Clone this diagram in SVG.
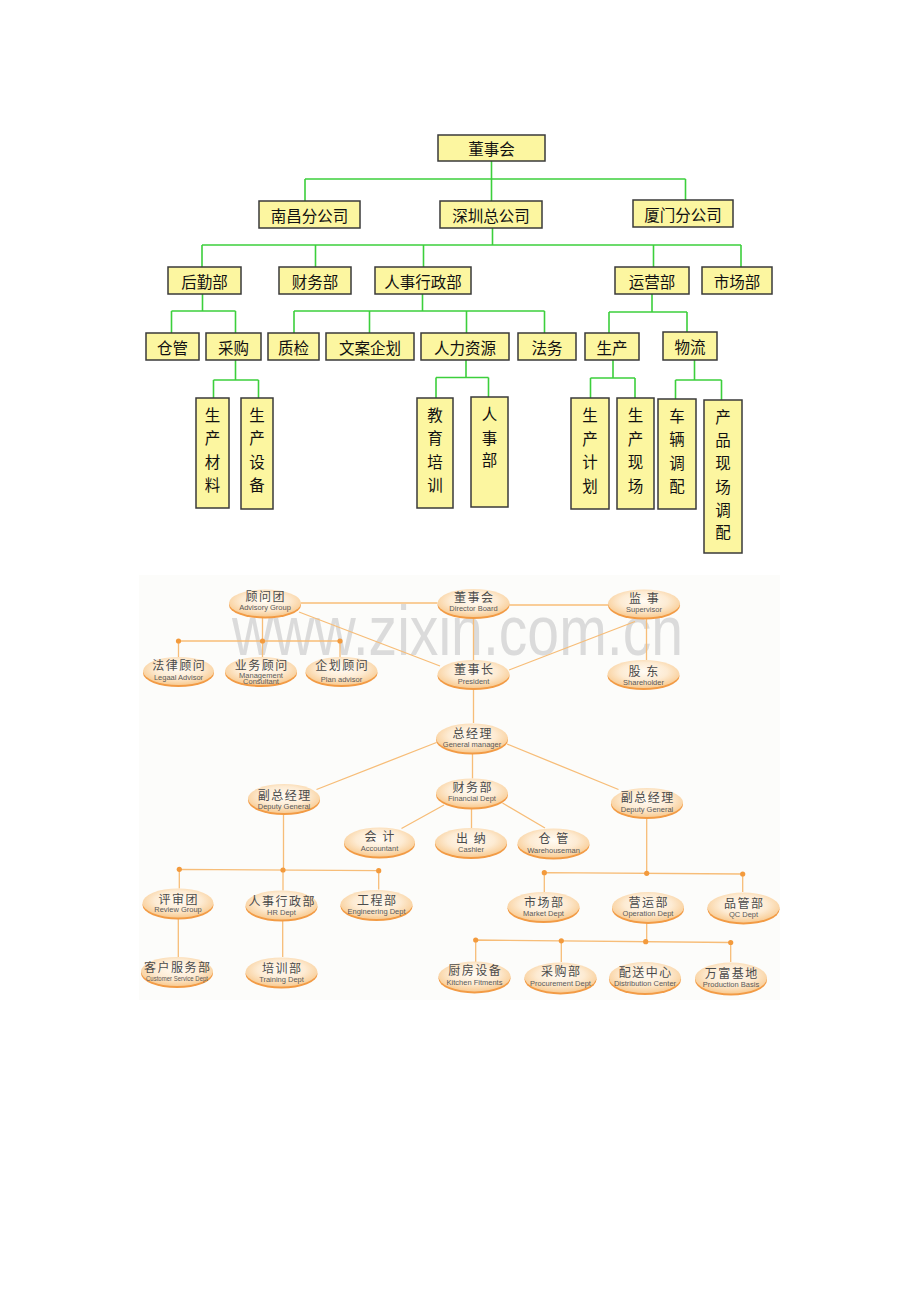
<svg xmlns="http://www.w3.org/2000/svg" width="920" height="1302" viewBox="0 0 920 1302">
<style>
.box{fill:#fcf6a0;stroke:#3a3a3a;stroke-width:1.5}
.bt{font-family:"Noto Sans CJK SC","Noto Sans CJK JP",sans-serif;font-size:15.5px;fill:#111;text-anchor:middle;dominant-baseline:central}
.gl{stroke:#3ccf3c;stroke-width:1.6;fill:none}
.ol{stroke:#f7bd78;stroke-width:1.3;fill:none}
.dot{fill:#f39a3c}
.es{fill:#f29b45}
.ef{fill:url(#eg)}
.zh{font-family:"Noto Sans CJK SC","Noto Sans CJK JP",sans-serif;font-size:12px;fill:#4b4b4b;text-anchor:middle;dominant-baseline:central;letter-spacing:1.5px;transform:translateY(-1px)}
.en{font-family:"Liberation Sans",Arial,sans-serif;font-size:7.5px;fill:#5a5a5a;text-anchor:middle;dominant-baseline:central;transform:translateY(0.6px)}
.wm{font-family:"Liberation Sans",Arial,sans-serif;font-size:71px;fill:#d4d4d4;opacity:0.8}
</style>
<defs>
<radialGradient id="eg" cx="50%" cy="42%" r="55%">
<stop offset="0" stop-color="#fffbf4"/>
<stop offset="0.6" stop-color="#fdebd3"/>
<stop offset="1" stop-color="#f9cf9a"/>
</radialGradient>
</defs>
<rect x="0" y="0" width="920" height="1302" fill="#ffffff"/>

<!-- ===== Top chart ===== -->
<g id="top-connectors">
<path class="gl" d="M491.5 161V201M305 179H685.5M305 179V201M685.5 179V200"/>
<path class="gl" d="M492.5 228V245M202 245H741M202 245V267M315.5 245V267M423.5 245V267M653.5 245V267M741 245V267"/>
<path class="gl" d="M202.5 294V311M171.5 311H235.5M171.5 311V333M235.5 311V333"/>
<path class="gl" d="M235.5 360V380M213.5 380H258.5M213.5 380V398M258.5 380V398"/>
<path class="gl" d="M422.5 293V311M294 311H544.5M294 311V333M369.5 311V333M466.5 311V333M544.5 311V333"/>
<path class="gl" d="M466 360V377.5M436 377.5H488.5M436 377.5V398M488.5 377.5V397"/>
<path class="gl" d="M652 294V312M609 312H687M609 312V333M687 312V332"/>
<path class="gl" d="M613 360V378M590.5 378H635M590.5 378V398M635 378V398"/>
<path class="gl" d="M694.5 360V380M675.5 380H721.5M675.5 380V399M721.5 380V400"/>
</g>

<g id="t-dongshihui"><rect class="box" x="438" y="135" width="107" height="26"/><text class="bt" x="491.5" y="148">董事会</text></g>
<g id="t-nanchang"><rect class="box" x="259" y="201" width="101" height="27"/><text class="bt" x="309.5" y="214.5">南昌分公司</text></g>
<g id="t-shenzhen"><rect class="box" x="440" y="201" width="102" height="27"/><text class="bt" x="491" y="214.5">深圳总公司</text></g>
<g id="t-xiamen"><rect class="box" x="633" y="200" width="100" height="27"/><text class="bt" x="683" y="213.5">厦门分公司</text></g>
<g id="t-houqin"><rect class="box" x="168" y="267" width="73" height="27"/><text class="bt" x="204.5" y="280.5">后勤部</text></g>
<g id="t-caiwu"><rect class="box" x="279" y="267" width="72" height="27"/><text class="bt" x="315" y="280.5">财务部</text></g>
<g id="t-renshi"><rect class="box" x="375" y="267" width="96" height="27"/><text class="bt" x="423" y="280.5">人事行政部</text></g>
<g id="t-yunying"><rect class="box" x="615" y="267" width="74" height="27"/><text class="bt" x="652" y="280.5">运营部</text></g>
<g id="t-shichang"><rect class="box" x="702" y="267" width="70" height="27"/><text class="bt" x="737" y="280.5">市场部</text></g>
<g id="t-canguan"><rect class="box" x="146" y="333" width="53" height="27"/><text class="bt" x="172.5" y="346.5">仓管</text></g>
<g id="t-caigou"><rect class="box" x="206" y="333" width="55" height="27"/><text class="bt" x="233.5" y="346.5">采购</text></g>
<g id="t-zhijian"><rect class="box" x="268" y="333" width="51" height="27"/><text class="bt" x="293.5" y="346.5">质检</text></g>
<g id="t-wenan"><rect class="box" x="326" y="333" width="88" height="27"/><text class="bt" x="370" y="346.5">文案企划</text></g>
<g id="t-renli"><rect class="box" x="421" y="333" width="88" height="27"/><text class="bt" x="465" y="346.5">人力资源</text></g>
<g id="t-fawu"><rect class="box" x="518" y="333" width="58" height="27"/><text class="bt" x="547" y="346.5">法务</text></g>
<g id="t-shengchan"><rect class="box" x="585" y="333" width="54" height="27"/><text class="bt" x="612" y="346.5">生产</text></g>
<g id="t-wuliu"><rect class="box" x="663" y="332" width="54" height="28"/><text class="bt" x="690" y="346">物流</text></g>

<g id="t-shengchancailiao"><rect class="box" x="196" y="398" width="33" height="110"/>
<text class="bt"><tspan x="212.5" y="413.5">生</tspan><tspan x="212.5" y="437">产</tspan><tspan x="212.5" y="460.5">材</tspan><tspan x="212.5" y="484">料</tspan></text></g>
<g id="t-shengchanshebei"><rect class="box" x="241" y="398" width="32" height="111"/>
<text class="bt"><tspan x="257" y="413.5">生</tspan><tspan x="257" y="437">产</tspan><tspan x="257" y="460.5">设</tspan><tspan x="257" y="484">备</tspan></text></g>
<g id="t-jiaoyupeixun"><rect class="box" x="417" y="398" width="36" height="110"/>
<text class="bt"><tspan x="435" y="413.5">教</tspan><tspan x="435" y="437">育</tspan><tspan x="435" y="460.5">培</tspan><tspan x="435" y="484">训</tspan></text></g>
<g id="t-renshibu"><rect class="box" x="471" y="397" width="37" height="110"/>
<text class="bt"><tspan x="489.5" y="413">人</tspan><tspan x="489.5" y="436.5">事</tspan><tspan x="489.5" y="459">部</tspan></text></g>
<g id="t-shengchanjihua"><rect class="box" x="571" y="398" width="38" height="111"/>
<text class="bt"><tspan x="590" y="414">生</tspan><tspan x="590" y="437.5">产</tspan><tspan x="590" y="461">计</tspan><tspan x="590" y="484.5">划</tspan></text></g>
<g id="t-shengchanxianchang"><rect class="box" x="617" y="398" width="37" height="111"/>
<text class="bt"><tspan x="635.5" y="414">生</tspan><tspan x="635.5" y="437.5">产</tspan><tspan x="635.5" y="461">现</tspan><tspan x="635.5" y="484.5">场</tspan></text></g>
<g id="t-cheliangdiaopei"><rect class="box" x="658" y="399" width="38" height="110"/>
<text class="bt"><tspan x="677" y="414.5">车</tspan><tspan x="677" y="438">辆</tspan><tspan x="677" y="461.5">调</tspan><tspan x="677" y="485">配</tspan></text></g>
<g id="t-chanpindiaopei"><rect class="box" x="704" y="400" width="38" height="153"/>
<text class="bt"><tspan x="723" y="415.5">产</tspan><tspan x="723" y="438.5">品</tspan><tspan x="723" y="462">现</tspan><tspan x="723" y="485.5">场</tspan><tspan x="723" y="508.5">调</tspan><tspan x="723" y="531">配</tspan></text></g>

<!-- ===== Bottom chart ===== -->
<rect x="139" y="575" width="641" height="425" fill="#fcfcfa"/>
<text class="wm" x="232" y="655" textLength="451" lengthAdjust="spacingAndGlyphs">www.zixin.com.cn</text>

<g id="bottom-connectors">
<path class="ol" d="M301 603H437.5M299 612L440 666M509.5 605H608M473.5 617V660M635 621.5L509 670M646.5 617.5V660"/>
<path class="ol" d="M262.5 616.5V657M178.5 641H340M178.5 641V657M340 641V657"/>
<path class="ol" d="M473.5 688V723M472.5 753V778.5M436.5 742.5L316.5 789.5M507 744L618.5 789.5"/>
<path class="ol" d="M444 805L401.5 828.5M471.5 807.5V828M502.5 803L545 828"/>
<path class="ol" d="M283.5 813V869.5M179.3 869.3L378.7 870.7M179.3 869.3V888.5M378.7 870.7V889.5M283 870V890.5"/>
<path class="ol" d="M178.3 918V957M282.7 920V957"/>
<path class="ol" d="M646.7 817V873M544.3 872.7L742.7 874M544.3 872.7V892M742.7 874V892"/>
<path class="ol" d="M646.7 922.5V941M475.7 940L730.7 942.5M475.7 940V962M561.3 940.8V962M730.7 942.5V962"/>
<circle class="dot" cx="178.5" cy="641" r="2.6"/><circle class="dot" cx="262.5" cy="641" r="2.6"/><circle class="dot" cx="340" cy="641" r="2.6"/>
<circle class="dot" cx="179.3" cy="869.3" r="2.6"/><circle class="dot" cx="283" cy="870" r="2.6"/><circle class="dot" cx="378.7" cy="870.7" r="2.6"/>
<circle class="dot" cx="544.3" cy="872.7" r="2.6"/><circle class="dot" cx="646.7" cy="873.3" r="2.6"/><circle class="dot" cx="742.7" cy="874" r="2.6"/>
<circle class="dot" cx="475.7" cy="940" r="2.6"/><circle class="dot" cx="561.3" cy="940.8" r="2.6"/><circle class="dot" cx="645.7" cy="941.7" r="2.6"/><circle class="dot" cx="730.7" cy="942.5" r="2.6"/>
</g>

<g id="b-guwentuan"><ellipse class="es" cx="265" cy="605" rx="36" ry="13.5"/><ellipse class="ef" cx="265" cy="603" rx="36" ry="13.5"/><text class="zh" x="265.7" y="596">顾问团</text><text class="en" x="265" y="606.5">Advisory Group</text></g>
<g id="b-dongshihui"><ellipse class="es" cx="473.5" cy="605" rx="36" ry="14"/><ellipse class="ef" cx="473.5" cy="603" rx="36" ry="14"/><text class="zh" x="474.2" y="597.5">董事会</text><text class="en" x="473.5" y="608">Director Board</text></g>
<g id="b-jianshi"><ellipse class="es" cx="644" cy="605.5" rx="36" ry="14"/><ellipse class="ef" cx="644" cy="603.5" rx="36" ry="14"/><text class="zh" x="644.7" y="598">监 事</text><text class="en" x="644" y="609">Supervisor</text></g>
<g id="b-falvguwen"><ellipse class="es" cx="178.5" cy="673" rx="35.5" ry="14"/><ellipse class="ef" cx="178.5" cy="671" rx="35.5" ry="14"/><text class="zh" x="179.2" y="665.5">法律顾问</text><text class="en" x="178.5" y="677">Legaal Advisor</text></g>
<g id="b-yewuguwen"><ellipse class="es" cx="261" cy="673" rx="36" ry="14"/><ellipse class="ef" cx="261" cy="671" rx="36" ry="14"/><text class="zh" x="261.7" y="665.5">业务顾问</text><text class="en" x="261" y="675">Management</text><text class="en" x="261" y="681">Consultant</text></g>
<g id="b-qihuaguwen"><ellipse class="es" cx="341.5" cy="673" rx="36" ry="14"/><ellipse class="ef" cx="341.5" cy="671" rx="36" ry="14"/><text class="zh" x="342.2" y="665.5">企划顾问</text><text class="en" x="341.5" y="679">Plan advisor</text></g>
<g id="b-dongshizhang"><ellipse class="es" cx="473.5" cy="676" rx="36" ry="14"/><ellipse class="ef" cx="473.5" cy="674" rx="36" ry="14"/><text class="zh" x="474.2" y="669">董事长</text><text class="en" x="473.5" y="681">President</text></g>
<g id="b-gudong"><ellipse class="es" cx="643.5" cy="676" rx="36" ry="14"/><ellipse class="ef" cx="643.5" cy="674" rx="36" ry="14"/><text class="zh" x="644.2" y="671.5">股 东</text><text class="en" x="643.5" y="682">Shareholder</text></g>
<g id="b-zongjingli"><ellipse class="es" cx="472" cy="740" rx="36" ry="14.5"/><ellipse class="ef" cx="472" cy="738" rx="36" ry="14.5"/><text class="zh" x="472.7" y="733">总经理</text><text class="en" x="472" y="743.5">General manager</text></g>
<g id="b-fuzong-l"><ellipse class="es" cx="284" cy="800.5" rx="36" ry="14.5"/><ellipse class="ef" cx="284" cy="798.5" rx="36" ry="14.5"/><text class="zh" x="284.7" y="795">副总经理</text><text class="en" x="284" y="806">Deputy General</text></g>
<g id="b-caiwubu"><ellipse class="es" cx="472" cy="795" rx="36" ry="14.5"/><ellipse class="ef" cx="472" cy="793" rx="36" ry="14.5"/><text class="zh" x="472.7" y="787.5">财务部</text><text class="en" x="472" y="798">Financial Dept</text></g>
<g id="b-fuzong-r"><ellipse class="es" cx="647" cy="804.5" rx="36" ry="14.5"/><ellipse class="ef" cx="647" cy="802.5" rx="36" ry="14.5"/><text class="zh" x="647.7" y="797.5">副总经理</text><text class="en" x="647" y="808.5">Deputy General</text></g>
<g id="b-kuaiji"><ellipse class="es" cx="379.5" cy="844" rx="35.5" ry="14.5"/><ellipse class="ef" cx="379.5" cy="842" rx="35.5" ry="14.5"/><text class="zh" x="380.2" y="836.5">会 计</text><text class="en" x="379.5" y="847.5">Accountant</text></g>
<g id="b-chuna"><ellipse class="es" cx="471" cy="844.5" rx="36" ry="14.5"/><ellipse class="ef" cx="471" cy="842.5" rx="36" ry="14.5"/><text class="zh" x="471.7" y="838">出 纳</text><text class="en" x="471" y="849">Cashier</text></g>
<g id="b-cangguan"><ellipse class="es" cx="553.5" cy="845" rx="36" ry="14.5"/><ellipse class="ef" cx="553.5" cy="843" rx="36" ry="14.5"/><text class="zh" x="554.2" y="838">仓 管</text><text class="en" x="553.5" y="849.5">Warehouseman</text></g>
<g id="b-pingshentuan"><ellipse class="es" cx="178" cy="905" rx="35.5" ry="14.5"/><ellipse class="ef" cx="178" cy="903" rx="35.5" ry="14.5"/><text class="zh" x="178.7" y="899">评审团</text><text class="en" x="178" y="909">Review Group</text></g>
<g id="b-renshixingzheng"><ellipse class="es" cx="281.5" cy="907" rx="36" ry="14.5"/><ellipse class="ef" cx="281.5" cy="905" rx="36" ry="14.5"/><text class="zh" x="282.2" y="901.5">人事行政部</text><text class="en" x="281.5" y="912">HR Dept</text></g>
<g id="b-gongchengbu"><ellipse class="es" cx="376.5" cy="906.5" rx="36" ry="14.5"/><ellipse class="ef" cx="376.5" cy="904.5" rx="36" ry="14.5"/><text class="zh" x="377.2" y="900">工程部</text><text class="en" x="376.5" y="910.5">Engineering Dept</text></g>
<g id="b-kehufuwu"><ellipse class="es" cx="177" cy="973.5" rx="36" ry="14.5"/><ellipse class="ef" cx="177" cy="971.5" rx="36" ry="14.5"/><text class="zh" x="177.7" y="967">客户服务部</text><text class="en" x="177" y="978" textLength="62" lengthAdjust="spacingAndGlyphs">Customer Service Dept</text></g>
<g id="b-peixunbu"><ellipse class="es" cx="281.5" cy="974" rx="36" ry="14.5"/><ellipse class="ef" cx="281.5" cy="972" rx="36" ry="14.5"/><text class="zh" x="282.2" y="968">培训部</text><text class="en" x="281.5" y="979">Training  Dept</text></g>
<g id="b-shichangbu"><ellipse class="es" cx="543.5" cy="908.5" rx="36" ry="14.5"/><ellipse class="ef" cx="543.5" cy="906.5" rx="36" ry="14.5"/><text class="zh" x="544.2" y="902">市场部</text><text class="en" x="543.5" y="912.5">Market Dept</text></g>
<g id="b-yingyunbu"><ellipse class="es" cx="648" cy="909" rx="36" ry="15"/><ellipse class="ef" cx="648" cy="907" rx="36" ry="15"/><text class="zh" x="648.7" y="902.5">营运部</text><text class="en" x="648" y="913">Operation Dept</text></g>
<g id="b-pinguanbu"><ellipse class="es" cx="743.5" cy="909.5" rx="36" ry="15"/><ellipse class="ef" cx="743.5" cy="907.5" rx="36" ry="15"/><text class="zh" x="744.2" y="903">品管部</text><text class="en" x="743.5" y="914">QC Dept</text></g>
<g id="b-chufangshebei"><ellipse class="es" cx="474.5" cy="978.5" rx="36" ry="15"/><ellipse class="ef" cx="474.5" cy="976.5" rx="36" ry="15"/><text class="zh" x="475.2" y="970.5">厨房设备</text><text class="en" x="474.5" y="982">Kitchen Fitments</text></g>
<g id="b-caigoubu"><ellipse class="es" cx="560.5" cy="979.5" rx="36" ry="15"/><ellipse class="ef" cx="560.5" cy="977.5" rx="36" ry="15"/><text class="zh" x="561.2" y="971.5">采购部</text><text class="en" x="560.5" y="982.5">Procurement Dept</text></g>
<g id="b-peisongzhongxin"><ellipse class="es" cx="645" cy="979.5" rx="36" ry="15.5"/><ellipse class="ef" cx="645" cy="977.5" rx="36" ry="15.5"/><text class="zh" x="645.7" y="972.5">配送中心</text><text class="en" x="645" y="983">Distribution Center</text></g>
<g id="b-wanfujidi"><ellipse class="es" cx="731" cy="980" rx="36" ry="15.5"/><ellipse class="ef" cx="731" cy="978" rx="36" ry="15.5"/><text class="zh" x="731.7" y="973">万富基地</text><text class="en" x="731" y="984">Production Basis</text></g>
</svg>
